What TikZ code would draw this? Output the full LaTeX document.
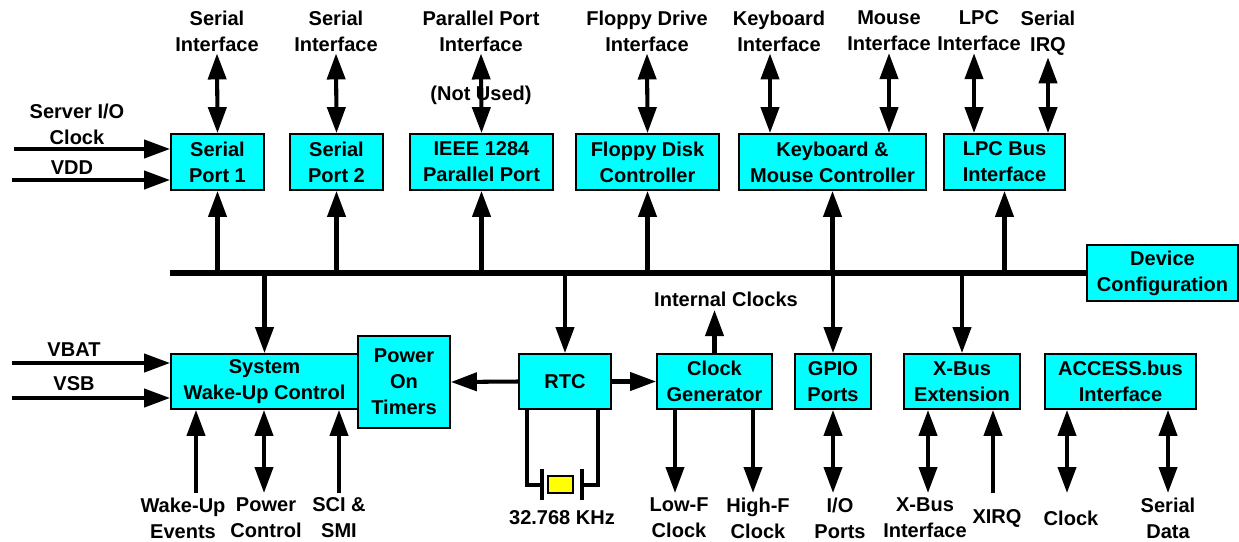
\documentclass[tikz,border=0pt]{standalone}
\usepackage{fontspec}
\setmainfont{Liberation Sans}
\usepackage{tikz}
\usetikzlibrary{arrows.meta,calc,positioning}

\newcommand{\blkfont}{\bfseries\fontsize{11.4}{14.8}\selectfont}
\definecolor{blkcyan}{RGB}{0,255,255}
\definecolor{xtalyellow}{RGB}{255,255,0}

\begin{document}
\begin{tikzpicture}[x=0.02cm, y=-0.02cm,
  blk/.style={draw, fill=blkcyan, line width=1pt, align=center, font=\blkfont,
              inner sep=0pt, minimum height=1.12cm},
  lbl/.style={align=center, inner sep=1pt, font=\blkfont},
  arr/.style={line width=2.3pt, -{Triangle[length=0.52cm, width=0.36cm]}},
  bidir/.style={line width=2.3pt, {Triangle[length=0.52cm, width=0.36cm]}-{Triangle[length=0.52cm, width=0.36cm]}},
  bus/.style={line width=3pt},
  wire/.style={line width=1.9pt}]

\useasboundingbox (0,0) rectangle (1239,541);

% Blocchi superiori
\node[blk, minimum width=1.86cm] (sp1) at (217.5,162) {Serial\\Port 1};
\node[blk, minimum width=1.86cm] (sp2) at (336.5,162) {Serial\\Port 2};
\node[blk, minimum width=2.86cm] (ieee) at (481.5,162) {IEEE 1284\\Parallel Port};
\node[blk, minimum width=2.86cm] (fdc) at (647.5,162) {Floppy Disk\\Controller};
\node[blk, minimum width=3.74cm] (kbc) at (832.5,162) {Keyboard \&\\Mouse Controller};
\node[blk, minimum width=2.42cm] (lpc) at (1004.5,162) {LPC Bus\\Interface};
\node[blk, minimum width=3.02cm] (dcfg) at (1162.5,273) {Device\\Configuration};

% Blocchi inferiori
\node[blk, minimum width=3.74cm, minimum height=1.1cm] (swu) at (264.5,381.5) {System\\Wake-Up Control};
\node[blk, minimum width=1.84cm, minimum height=1.84cm] (pot) at (404,382) {Power\\On\\Timers};
\node[blk, minimum width=1.84cm, minimum height=1.1cm] (rtc) at (565,381.5) {RTC};
\node[blk, minimum width=2.30cm, minimum height=1.1cm] (ckg) at (714.5,381.5) {Clock\\Generator};
\node[blk, minimum width=1.52cm, minimum height=1.1cm] (gpio) at (833,381.5) {GPIO\\Ports};
\node[blk, minimum width=2.32cm, minimum height=1.1cm] (xbus) at (962,381.5) {X-Bus\\Extension};
\node[blk, minimum width=3.02cm, minimum height=1.1cm] (acb) at (1120.5,381.5) {ACCESS.bus\\Interface};

% Etichette sopra
\node[lbl] (lsi1) at (217,31) {Serial\\Interface};
\node[lbl] (lsi2) at (336,31) {Serial\\Interface};
\node[lbl] (lppi) at (481,31) {Parallel Port\\Interface};
\node[lbl] (lfdi) at (647,31) {Floppy Drive\\Interface};
\node[lbl] (lkbi) at (779,31) {Keyboard\\Interface};
\node[lbl] (lmsi) at (889,31) {Mouse\\Interface};
\node[lbl] (llpc) at (979,31) {LPC\\Interface};
\node[lbl] (lirq) at (1048,33) {Serial\\IRQ};
\node[lbl] (lnu) at (481,95) {(Not Used)};

% Ingressi a sinistra
\node[lbl] (lsrv) at (77,124) {Server I/O\\Clock};
\node[lbl] (lvdd) at (72,168) {VDD};
\node[lbl] (lvbat) at (74,350) {VBAT};
\node[lbl] (lvsb) at (74,384) {VSB};
\coordinate (clkin) at (14,149);
\coordinate (vddin) at (12,180);
\coordinate (vbatin) at (12,363);
\coordinate (vsbin) at (12,398);

% Etichette sotto
\node[lbl] (lwue) at (183,518) {Wake-Up\\Events};
\node[lbl] (lpwr) at (266,518) {Power\\Control};
\node[lbl] (lsci) at (339,518) {SCI \&\\SMI};
\node[lbl] (lxtal) at (562,518) {32.768 KHz};
\node[lbl] (lint) at (726,299) {Internal Clocks};
\node[lbl] (llfc) at (679,518) {Low-F\\Clock};
\node[lbl] (lhfc) at (758,518) {High-F\\Clock};
\node[lbl] (lio) at (840,518) {I/O\\Ports};
\node[lbl] (lxbi) at (925,518) {X-Bus\\Interface};
\node[lbl] (lxirq) at (997,518) {XIRQ};
\node[lbl] (lclk) at (1071,518) {Clock};
\node[lbl] (lsd) at (1168,518) {Serial\\Data};

\coordinate (wue) at (196,493);
\coordinate (pwr) at (264,493);
\coordinate (sci) at (339,493);
\coordinate (lfc) at (675,493);
\coordinate (hfc) at (753,493);
\coordinate (iop) at (833,493);
\coordinate (xbi) at (928,493);
\coordinate (xirq) at (993,493);
\coordinate (aclk) at (1067,493);
\coordinate (asd) at (1168,493);
\coordinate (intc) at (714,310);

% Bus interno
\coordinate (busl) at (170,273);
\draw[bus] (busl) -- (dcfg.west);

% Bus -> blocchi
\draw[arr] (sp1.south |- busl) -- (sp1.south);
\draw[arr] (sp2.south |- busl) -- (sp2.south);
\draw[arr] (ieee.south |- busl) -- (ieee.south);
\draw[arr] (fdc.south |- busl) -- (fdc.south);
\draw[arr] (kbc.south |- busl) -- (kbc.south);
\draw[arr] (lpc.south |- busl) -- (lpc.south);
\draw[arr] (swu.north |- busl) -- (swu.north);
\draw[arr] (rtc.north |- busl) -- (rtc.north);
\draw[arr] (gpio.north |- busl) -- (gpio.north);
\draw[arr] (xbus.north |- busl) -- (xbus.north);

% Interfacce sopra
\draw[bidir] (lsi1.south) -- (sp1.north);
\draw[bidir] (lsi2.south) -- (sp2.north);
\draw[bidir] (lppi.south) -- (ieee.north);
\draw[bidir] (lfdi.south) -- (fdc.north);
\draw[bidir] ([xshift=-0.18cm]lkbi.south) -- ([xshift=-0.18cm]lkbi.south |- kbc.north);
\draw[bidir] (lmsi.south) -- (lmsi.south |- kbc.north);
\draw[bidir] ([xshift=-0.1cm]llpc.south) -- ([xshift=-0.1cm]llpc.south |- lpc.north);
\draw[bidir] (lirq.south) -- (lirq.south |- lpc.north);

% Ingressi
\draw[arr] (clkin) -- (clkin -| sp1.west);
\draw[arr] (vddin) -- (vddin -| sp1.west);
\draw[arr] (vbatin) -- (vbatin -| swu.west);
\draw[arr] (vsbin) -- (vsbin -| swu.west);

% RTC
\draw[arr] (rtc.west) -- (pot.east);
\draw[arr] (rtc.east) -- (ckg.west);
\draw[arr] (ckg.north) -- (ckg.north |- intc);

% Quarzo
\draw[wire] ([xshift=0.18cm]rtc.south west) |- (542,485);
\draw[wire] ([xshift=-0.28cm]rtc.south east) |- (582,485);
\draw[wire] (542,469) -- (542,500);
\draw[wire] (582,469) -- (582,500);
\draw[fill=xtalyellow, line width=1pt] (548,476) rectangle (573,493);

% Uscite sotto
\draw[arr] (wue) -- (wue |- swu.south);
\draw[bidir] (pwr |- swu.south) -- (pwr);
\draw[arr] (sci) -- (sci |- swu.south);
\draw[arr] (lfc |- ckg.south) -- (lfc);
\draw[arr] (hfc |- ckg.south) -- (hfc);
\draw[bidir] (iop |- gpio.south) -- (iop);
\draw[bidir] (xbi |- xbus.south) -- (xbi);
\draw[arr] (xirq) -- (xirq |- xbus.south);
\draw[bidir] (aclk |- acb.south) -- (aclk);
\draw[bidir] (asd |- acb.south) -- (asd);

\end{tikzpicture}
\end{document}
